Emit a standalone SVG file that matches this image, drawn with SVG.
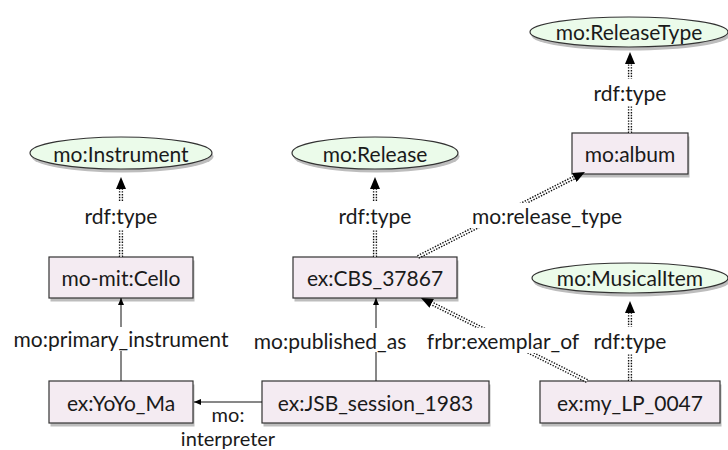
<svg xmlns="http://www.w3.org/2000/svg" width="728" height="450" viewBox="0 0 728 450">
<defs>
<style>
.box{fill:#f4ebf2;stroke:#333;stroke-width:1.2}
.ell{fill:#ebfbea;stroke:#333;stroke-width:1.2}
.sh{fill:#bdbdbd}
text{font-family:Lato,"DejaVu Sans",sans-serif;font-size:21px;fill:#1a1a1a;text-anchor:middle;dominant-baseline:central}
.sm{font-size:20px}
.dd{fill:none;stroke:#111;stroke-width:4.2;stroke-dasharray:1.4 1.4}
.ddw{fill:none;stroke:#fff;stroke-width:1.4}
.sl{fill:none;stroke:#111;stroke-width:1}
.lbg{fill:#fff}
</style>
<marker id="hd" viewBox="0 0 12 10" refX="0" refY="5" markerWidth="12" markerHeight="10" markerUnits="userSpaceOnUse" orient="auto"><path d="M0,0 L12,5 L0,10 Z" fill="#000"/></marker>
<marker id="hs" viewBox="0 0 7 6" refX="7" refY="3" markerWidth="7" markerHeight="6" markerUnits="userSpaceOnUse" orient="auto"><path d="M0,0 L7,3 L0,6 Z" fill="#000"/></marker>
</defs>
<rect width="728" height="450" fill="#fff"/>
<g id="n-instrument"><ellipse class="sh" cx="122.5" cy="156.5" rx="91" ry="16"/><ellipse class="ell" cx="121" cy="153" rx="91" ry="16"/><text x="121" y="153">mo:Instrument</text></g>
<g id="n-release"><ellipse class="sh" cx="376.5" cy="156.5" rx="83" ry="16"/><ellipse class="ell" cx="375" cy="153" rx="83" ry="16"/><text x="375" y="153">mo:Release</text></g>
<g id="n-releasetype"><ellipse class="sh" cx="630.5" cy="35.5" rx="99" ry="15"/><ellipse class="ell" cx="629" cy="32" rx="99" ry="15"/><text x="629" y="31">mo:ReleaseType</text></g>
<g id="n-musicalitem"><ellipse class="sh" cx="631.5" cy="281.5" rx="98" ry="15"/><ellipse class="ell" cx="630" cy="278" rx="98" ry="15"/><text x="630" y="277">mo:MusicalItem</text></g>
<g id="n-album"><rect class="sh" x="573.5" y="136.5" width="116" height="41"/><rect class="box" x="572" y="133" width="116" height="41"/><text x="630" y="153.5">mo:album</text></g>
<g id="n-cello"><rect class="sh" x="50.5" y="260.5" width="144" height="41"/><rect class="box" x="49" y="257" width="144" height="41"/><text x="121" y="277.5">mo-mit:Cello</text></g>
<g id="n-cbs"><rect class="sh" x="294.5" y="260.5" width="164" height="41"/><rect class="box" x="293" y="257" width="164" height="41"/><text x="375" y="277.5">ex:CBS_37867</text></g>
<g id="n-yoyo"><rect class="sh" x="50.5" y="384.5" width="144" height="42"/><rect class="box" x="49" y="381" width="144" height="42"/><text x="121" y="402">ex:YoYo_Ma</text></g>
<g id="n-jsb"><rect class="sh" x="263.5" y="384.5" width="227" height="42"/><rect class="box" x="262" y="381" width="227" height="42"/><text x="375.5" y="402">ex:JSB_session_1983</text></g>
<g id="n-lp"><rect class="sh" x="541.5" y="384.5" width="180" height="42"/><rect class="box" x="540" y="381" width="180" height="42"/><text x="630" y="402">ex:my_LP_0047</text></g>
<g id="connectors">
<path class="dd" d="M121,257 V189" marker-end="url(#hd)"/><path class="ddw" d="M121,257 V189"/>
<path class="dd" d="M375,257 V189" marker-end="url(#hd)"/><path class="ddw" d="M375,257 V189"/>
<path class="dd" d="M630,133 V64" marker-end="url(#hd)"/><path class="ddw" d="M630,133 V64"/>
<path class="dd" d="M630,381 V313" marker-end="url(#hd)"/><path class="ddw" d="M630,381 V313"/>
<path class="dd" d="M418,257 L574.3,177.5" marker-end="url(#hd)"/><path class="ddw" d="M418,257 L574.3,177.5"/>
<path class="dd" d="M587,381 L431.7,303.4" marker-end="url(#hd)"/><path class="ddw" d="M587,381 L431.7,303.4"/>
<path class="sl" d="M121,381 V298" marker-end="url(#hs)"/>
<path class="sl" d="M376,381 V298" marker-end="url(#hs)"/>
<path class="sl" d="M262,402 H194" marker-end="url(#hs)"/>
<rect class="lbg" x="80" y="202" width="82" height="27"/><text x="121" y="215">rdf:type</text>
<rect class="lbg" x="334" y="202" width="82" height="27"/><text x="375" y="215">rdf:type</text>
<rect class="lbg" x="589" y="79" width="82" height="27"/><text x="630" y="92">rdf:type</text>
<rect class="lbg" x="589" y="327" width="82" height="27"/><text x="630" y="340">rdf:type</text>
<rect class="lbg" x="466" y="203" width="162" height="25"/><text x="547" y="215">mo:release_type</text>
<rect class="lbg" x="423" y="328" width="160" height="25"/><text x="503" y="340">frbr:exemplar_of</text>
<rect class="lbg" x="8" y="327" width="226" height="24"/><text x="121" y="338">mo:primary_instrument</text>
<rect class="lbg" x="250" y="328" width="161" height="24"/><text x="330" y="340">mo:published_as</text>
<text class="sm" x="228" y="414">mo:</text><text class="sm" x="228" y="438">interpreter</text>
</g>
</svg>
